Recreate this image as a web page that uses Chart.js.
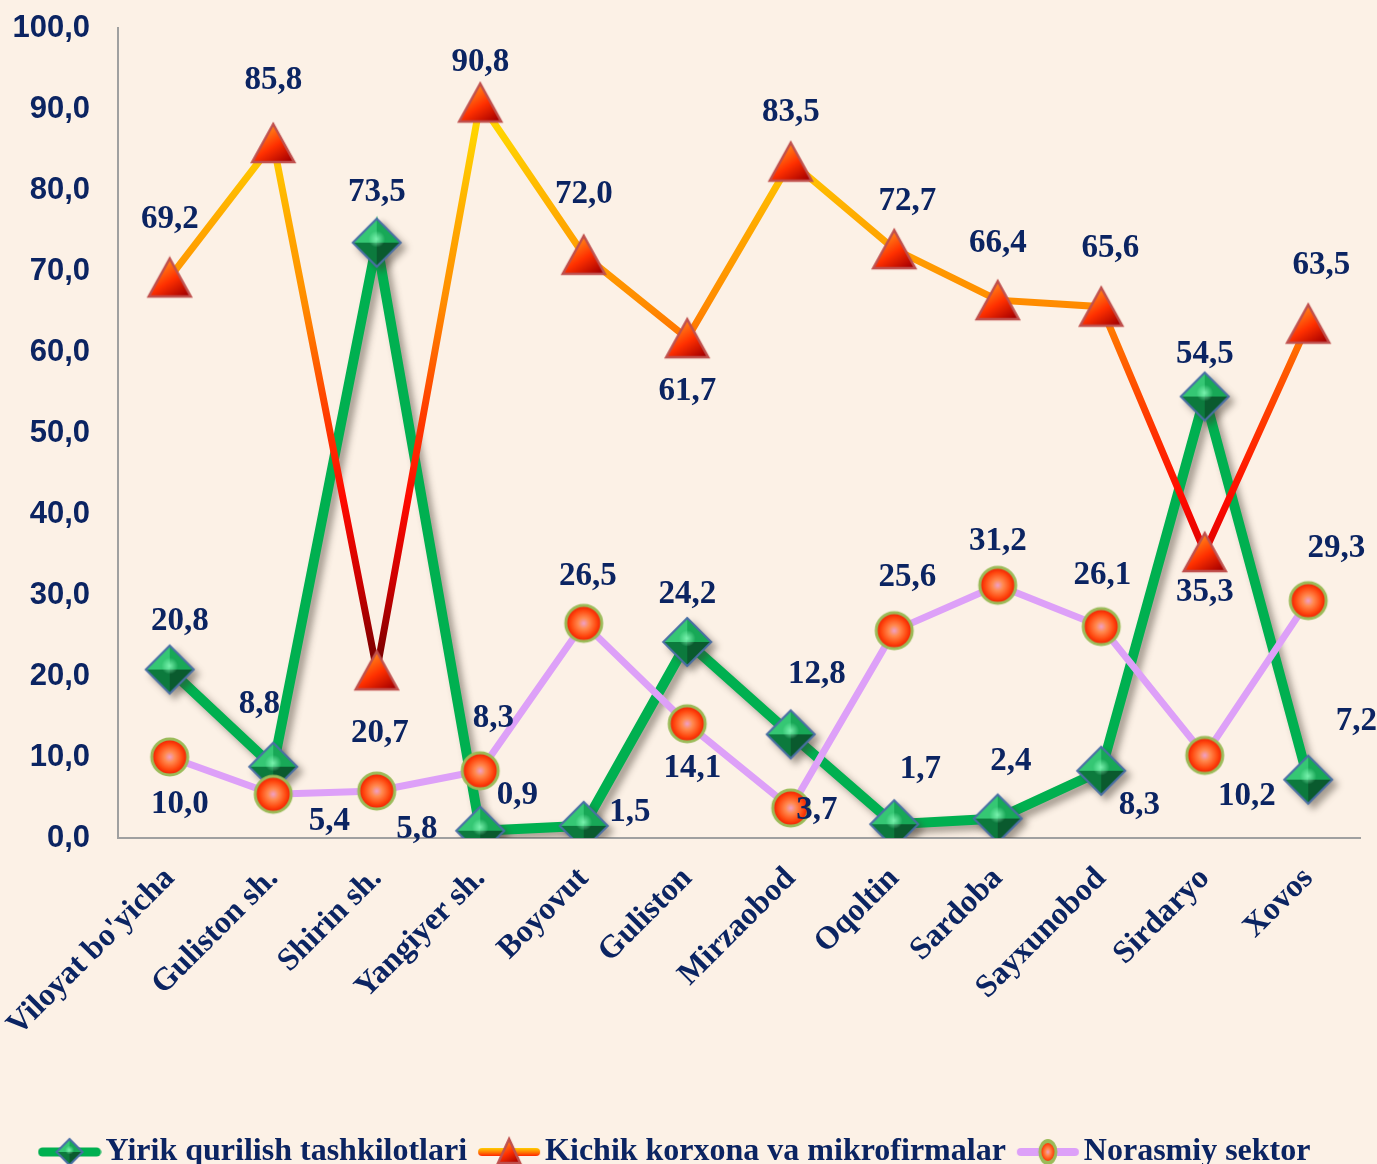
<!DOCTYPE html>
<html>
<head>
<meta charset="utf-8">
<script src="https://cdn.jsdelivr.net/npm/chart.js@4.4.1/dist/chart.umd.min.js"></script>
<style>
  html, body { margin: 0; padding: 0; background: #fcf1e6; overflow: hidden; }
  #wrap { width: 1377px; height: 1178px; position: relative; }
</style>
</head>
<body>
<div id="wrap"><canvas id="chart"></canvas></div>
<script>
// categories and values
const districts = ["Viloyat bo'yicha", "Guliston sh.", "Shirin sh.", "Yangiyer sh.", "Boyovut", "Guliston",
  "Mirzaobod", "Oqoltin", "Sardoba", "Sayxunobod", "Sirdaryo", "Xovos"];
const yirik = [20.8, 8.8, 73.5, 0.9, 1.5, 24.2, 12.8, 1.7, 2.4, 8.3, 54.5, 7.2];
const kichik = [69.2, 85.8, 20.7, 90.8, 72.0, 61.7, 83.5, 72.7, 66.4, 65.6, 35.3, 63.5];
const norasmiy = [10.0, 5.4, 5.8, 8.3, 26.5, 14.1, 3.7, 25.6, 31.2, 26.1, 10.2, 29.3];
const seriesNames = ['Yirik qurilish tashkilotlari', 'Kichik korxona va mikrofirmalar', 'Norasmiy sektor'];
const yTicks = [0, 10, 20, 30, 40, 50, 60, 70, 80, 90, 100];

// where each value label sits relative to its marker (px)
const yirikLbl = [[10,-48],[-14,-62],[0,-50],[37,-35],[46,-13],[0,-48],[26,-60],[26,-55],[13,-57],[38,35],[0,-42],[48,-58]];
const kichikLbl = [[0,-58],[0,-63],[3,63],[0,-40],[0,-60],[0,53],[0,-49],[13,-48],[0,-57],[9,-58],[0,40],[13,-58]];
const norasmiyLbl = [[10,47],[56,27],[40,38],[13,-52],[4,-47],[5,45],[26,2],[13,-53],[0,-44],[1,-51],[42,41],[28,-52]];

const navy = '#0b2462';
const fmt = v => v.toFixed(1).replace('.', ',');

function mk(w, h) { const c = document.createElement('canvas'); c.width = w; c.height = h; return c; }

// marker pictures
function drawDiamond(g, cx, cy, r) {
  const t = [cx, cy - r], rr = [cx + r, cy], b = [cx, cy + r], l = [cx - r, cy];
  const face = (p, q, col) => { g.beginPath(); g.moveTo(p[0], p[1]); g.lineTo(q[0], q[1]); g.lineTo(cx, cy); g.closePath(); g.fillStyle = col; g.fill(); };
  face(l, t, '#35c774');
  face(t, rr, '#18a857');
  face(l, b, '#0c7a3d');
  face(b, rr, '#0a5a2e');
  const hl = g.createRadialGradient(cx, cy - r * 0.15, 0, cx, cy - r * 0.15, r * 0.35);
  hl.addColorStop(0, 'rgba(140,255,190,0.8)');
  hl.addColorStop(1, 'rgba(140,255,190,0)');
  g.fillStyle = hl; g.beginPath(); g.arc(cx, cy - r * 0.15, r * 0.35, 0, Math.PI * 2); g.fill();
  g.beginPath(); g.moveTo(t[0], t[1]); g.lineTo(rr[0], rr[1]); g.lineTo(b[0], b[1]); g.lineTo(l[0], l[1]); g.closePath();
  g.lineWidth = 2; g.strokeStyle = '#4a6fa5'; g.stroke();
}
function drawTriangle(g, cx, cy, w, h) {
  const gr = g.createLinearGradient(cx - w / 4, cy - h / 2, cx + w / 3, cy + h / 2);
  gr.addColorStop(0, '#ffa020'); gr.addColorStop(0.55, '#ff3000'); gr.addColorStop(1, '#a80000');
  g.beginPath(); g.moveTo(cx, cy - h / 2); g.lineTo(cx + w / 2, cy + h / 2); g.lineTo(cx - w / 2, cy + h / 2); g.closePath();
  g.fillStyle = gr; g.fill(); g.lineWidth = 2.5; g.strokeStyle = '#c0504d'; g.stroke();
}
function drawBall(g, cx, cy, rx, ry) {
  g.save(); g.translate(cx, cy); g.scale(1, ry / rx);
  const gr = g.createRadialGradient(0, 0, 0, 0, 0, rx);
  gr.addColorStop(0, '#f0a0c8'); gr.addColorStop(0.3, '#ff8a50'); gr.addColorStop(0.7, '#ff4a10'); gr.addColorStop(1, '#f01800');
  g.beginPath(); g.arc(0, 0, rx, 0, Math.PI * 2); g.fillStyle = gr; g.fill();
  g.lineWidth = 3; g.strokeStyle = '#9bbb59'; g.stroke();
  g.restore();
}

const diamondPt = mk(54, 54); drawDiamond(diamondPt.getContext('2d'), 27, 27, 24);
const trianglePt = mk(48, 44); drawTriangle(trianglePt.getContext('2d'), 24, 22, 42, 38);
const ballPt = mk(42, 42); drawBall(ballPt.getContext('2d'), 21, 21, 18, 18);

// legend icons: line piece with a marker on it
function legendIcon(kind) {
  const c = mk(64, 34), g = c.getContext('2d');
  g.lineCap = 'round';
  if (kind === 0) {
    g.strokeStyle = '#00b050'; g.lineWidth = 9;
    g.beginPath(); g.moveTo(5, 17); g.lineTo(59, 17); g.stroke();
    drawDiamond(g, 32, 17, 13);
  } else if (kind === 1) {
    const lg = g.createLinearGradient(0, 12, 0, 22);
    lg.addColorStop(0, '#ffe000'); lg.addColorStop(0.5, '#ff8000'); lg.addColorStop(1, '#ff1000');
    g.strokeStyle = lg; g.lineWidth = 8;
    g.beginPath(); g.moveTo(5, 17); g.lineTo(59, 17); g.stroke();
    drawTriangle(g, 32, 16, 22, 24);
  } else {
    g.strokeStyle = '#dda0f8'; g.lineWidth = 8;
    g.beginPath(); g.moveTo(5, 17); g.lineTo(59, 17); g.stroke();
    drawBall(g, 32, 17, 8, 11);
  }
  return c;
}
const legendIcons = [legendIcon(0), legendIcon(1), legendIcon(2)];

// orange line coloured by height
function kichikGradient(context) {
  const chart = context.chart;
  const area = chart.chartArea;
  if (!area) return '#ff8c00';
  const y = chart.scales.y;
  const gr = chart.ctx.createLinearGradient(0, y.getPixelForValue(0), 0, y.getPixelForValue(100));
  gr.addColorStop(0.0, '#5a0000');
  gr.addColorStop(0.22, '#7a0000');
  gr.addColorStop(0.32, '#d00000');
  gr.addColorStop(0.42, '#ff0a00');
  gr.addColorStop(0.55, '#ff4a00');
  gr.addColorStop(0.66, '#ff8c00');
  gr.addColorStop(0.76, '#ffaa00');
  gr.addColorStop(0.86, '#ffd000');
  gr.addColorStop(1.0, '#ffee00');
  return gr;
}

const shadowPlugin = {
  id: 'greenShadow',
  beforeDatasetDraw(chart, args) {
    if (args.index !== 0) return;
    const c = chart.ctx;
    c.save();
    c.shadowColor = 'rgba(60,50,40,0.45)';
    c.shadowBlur = 7;
    c.shadowOffsetX = 5;
    c.shadowOffsetY = 5;
  },
  afterDatasetDraw(chart, args) {
    if (args.index === 0) chart.ctx.restore();
  }
};

const labelSets = [yirikLbl, kichikLbl, norasmiyLbl];
const valuePlugin = {
  id: 'values',
  afterDatasetsDraw(chart) {
    const c = chart.ctx;
    c.save();
    c.font = 'bold 33px "Liberation Serif", "Times New Roman", serif';
    c.fillStyle = navy;
    c.textAlign = 'center';
    c.textBaseline = 'middle';
    chart.data.datasets.forEach((ds, i) => {
      const meta = chart.getDatasetMeta(i);
      meta.data.forEach((pt, j) => {
        const off = labelSets[i][j];
        c.fillText(fmt(ds.data[j]), pt.x + off[0], pt.y + off[1]);
      });
    });
    c.restore();
  }
};

const serif = '"Liberation Serif", "Times New Roman", serif';

new Chart(document.getElementById('chart'), {
  type: 'line',
  data: {
    labels: districts,
    datasets: [
      { label: seriesNames[0], data: yirik, borderColor: '#00b050', borderWidth: 10, pointStyle: diamondPt,
        pointRadius: 24, tension: 0, order: 2 },
      { label: seriesNames[1], data: kichik, borderColor: kichikGradient, borderWidth: 7, pointStyle: trianglePt,
        pointRadius: 22, tension: 0, order: 1 },
      { label: seriesNames[2], data: norasmiy, borderColor: '#dda0f8', borderWidth: 7, pointStyle: ballPt,
        pointRadius: 20, tension: 0, order: 0 }
    ]
  },
  options: {
    responsive: true,
    maintainAspectRatio: false,
    animation: false,
    layout: { autoPadding: false, padding: { top: 28, right: 17, left: 0, bottom: 0 } },
    scales: {
      x: {
        offset: true,
        grid: { display: false },
        border: { display: true, color: '#a0a0a0', width: 2 },
        ticks: { color: navy, font: { family: serif, size: 32, weight: 'bold' }, maxRotation: 45, minRotation: 45, padding: 14, autoSkip: false },
        afterFit(scale) { scale.height = 276; scale.paddingLeft = 0; scale.paddingRight = 0; }
      },
      y: {
        min: 0, max: 100,
        afterBuildTicks(scale) { scale.ticks = yTicks.map(v => ({ value: v })); },
        grid: { display: false },
        border: { display: true, color: '#a0a0a0', width: 2 },
        ticks: { color: navy, font: { family: '"Liberation Sans", Arial, sans-serif', size: 31, weight: 'bold' }, padding: 20,
          callback: v => fmt(v) },
        afterFit(scale) { scale.width = 118; scale.paddingTop = 0; scale.paddingBottom = 0; }
      }
    },
    plugins: {
      legend: {
        position: 'bottom',
        labels: {
          usePointStyle: true,
          pointStyleWidth: 40,
          padding: 22,
          color: navy,
          font: { family: serif, size: 32, weight: 'bold' },
          generateLabels(chart) {
            const items = Chart.defaults.plugins.legend.labels.generateLabels(chart);
            items.forEach(it => { it.pointStyle = legendIcons[it.datasetIndex]; });
            return items.sort((a, b) => a.datasetIndex - b.datasetIndex);
          }
        }
      },
      tooltip: { enabled: false }
    }
  },
  plugins: [shadowPlugin, valuePlugin]
});
</script>
</body>
</html>
